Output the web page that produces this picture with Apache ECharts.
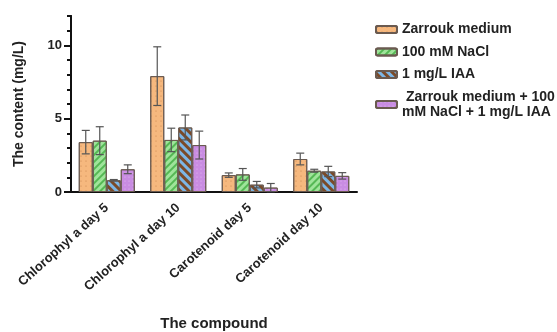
<!DOCTYPE html>
<html>
<head>
<meta charset="utf-8">
<script src="https://cdn.jsdelivr.net/npm/echarts@6/dist/echarts.min.js"></script>
<style>html,body{margin:0;padding:0;background:#fff}#c{width:557px;height:332px}</style>
</head>
<body>
<div id="c"></div>
<script>
var categories = ['Chlorophyl a day 5', 'Chlorophyl a day 10', 'Carotenoid day 5', 'Carotenoid day 10'];
var seriesNames = ['Zarrouk medium', '100 mM NaCl', '1 mg/L IAA', ' Zarrouk medium + 100\nmM NaCl + 1 mg/L IAA'];
var zarrouk = [3.4, 7.9, 1.15, 2.25];
var zarroukErr = [0.8, 2.0, 0.15, 0.4];
var nacl = [3.5, 3.55, 1.2, 1.45];
var naclErr = [0.95, 0.8, 0.4, 0.1];
var iaa = [0.8, 4.4, 0.5, 1.4];
var iaaErr = [0.05, 0.85, 0.22, 0.35];
var combo = [1.55, 3.2, 0.3, 1.1];
var comboErr = [0.3, 0.95, 0.28, 0.22];
var yMajorTicks = [0, 5, 10];

var means = [zarrouk, nacl, iaa, combo];
var errs = [zarroukErr, naclErr, iaaErr, comboErr];
var BAR_W = 14;

var fills = ['#f6b87e', '#9fe49a', '#7cb6e6', '#c98ce2'];
var decals = [
  {symbol: 'circle', symbolSize: 0.6, dashArrayX: [[1.2, 2.8]], dashArrayY: [1.2, 2.8], color: 'rgba(170,100,50,0.6)'},
  {symbol: 'rect', dashArrayX: [1, 0], dashArrayY: [2, 2.5], rotation: -Math.PI / 4, color: 'rgba(60,170,60,0.75)'},
  {symbol: 'rect', dashArrayX: [1, 0], dashArrayY: [3, 3], rotation: Math.PI / 4, color: '#7b4a28'},
  {symbol: 'circle', symbolSize: 0.6, dashArrayX: [[2, 2]], dashArrayY: [2, 2], color: 'rgba(235,200,245,0.85)'}
];

var series = [];
for (var s = 0; s < 4; s++) {
  series.push({
    name: seriesNames[s],
    type: 'bar',
    data: means[s],
    barWidth: BAR_W,
    barGap: '0%',
    itemStyle: {color: fills[s], borderColor: '#6a5a50', borderWidth: 1, decal: decals[s]}
  });
}
for (var s2 = 0; s2 < 4; s2++) {
  (function (si) {
    var d = [];
    for (var i = 0; i < categories.length; i++) d.push([i, means[si][i], errs[si][i]]);
    series.push({
      type: 'custom',
      name: 'err' + si,
      data: d,
      z: 10,
      silent: true,
      renderItem: function (params, api) {
        var ci = api.value(0), m = api.value(1), e = api.value(2);
        var top = api.coord([ci, m + e]);
        var bot = api.coord([ci, Math.max(0, m - e)]);
        var x = top[0] + (si - 1.5) * BAR_W;
        var cap = 4;
        var st = {stroke: '#555', lineWidth: 1.2};
        return {type: 'group', children: [
          {type: 'line', shape: {x1: x, y1: top[1], x2: x, y2: bot[1]}, style: st},
          {type: 'line', shape: {x1: x - cap, y1: top[1], x2: x + cap, y2: top[1]}, style: st},
          {type: 'line', shape: {x1: x - cap, y1: bot[1], x2: x + cap, y2: bot[1]}, style: st}
        ]};
      }
    });
  })(s2);
}

var chart = echarts.init(document.getElementById('c'), null, {renderer: 'canvas'});
chart.setOption({
  animation: false,
  aria: {enabled: false},
  legend: {
    data: seriesNames,
    orient: 'vertical',
    left: 370, top: 17,
    itemWidth: 21, itemHeight: 7,
    itemGap: 7.5,
    textStyle: {fontFamily: 'Liberation Sans', fontWeight: 'bold', fontSize: 14, color: '#222', lineHeight: 15}
  },
  grid: {left: 71, right: 200, top: 16, bottom: 140, containLabel: false, outerBoundsMode: 'none'},
  xAxis: {
    type: 'category',
    data: categories,
    name: 'The compound',
    nameLocation: 'middle',
    nameGap: 124,
    nameTextStyle: {fontFamily: 'Liberation Sans', fontWeight: 'bold', fontSize: 15, color: '#222'},
    axisLine: {lineStyle: {color: '#111', width: 2}},
    axisTick: {alignWithLabel: true, length: 7, lineStyle: {color: '#111', width: 2}},
    axisLabel: {rotate: 42, margin: 14, interval: 0, fontFamily: 'Liberation Sans', fontWeight: 'bold', fontSize: 13, color: '#222'}
  },
  yAxis: [{
    type: 'value', min: 0, max: 12, interval: 1,
    axisLine: {show: true, lineStyle: {color: '#111', width: 2}},
    axisTick: {show: true, length: 4, lineStyle: {color: '#111', width: 2}},
    axisLabel: {show: false},
    splitLine: {show: false}
  }, {
    type: 'value', min: 0, max: 12, position: 'left',
    name: 'The content (mg/L)',
    nameLocation: 'middle',
    nameGap: 45,
    nameTextStyle: {fontFamily: 'Liberation Sans', fontWeight: 'bold', fontSize: 14, color: '#222'},
    axisLine: {show: true, lineStyle: {color: '#111', width: 2}},
    axisTick: {show: true, length: 7, customValues: yMajorTicks, lineStyle: {color: '#111', width: 2}},
    axisLabel: {customValues: yMajorTicks, margin: 9, fontFamily: 'Liberation Sans', fontWeight: 'bold', fontSize: 13, color: '#222'},
    splitLine: {show: false}
  }],
  series: series
});
</script>
</body>
</html>
